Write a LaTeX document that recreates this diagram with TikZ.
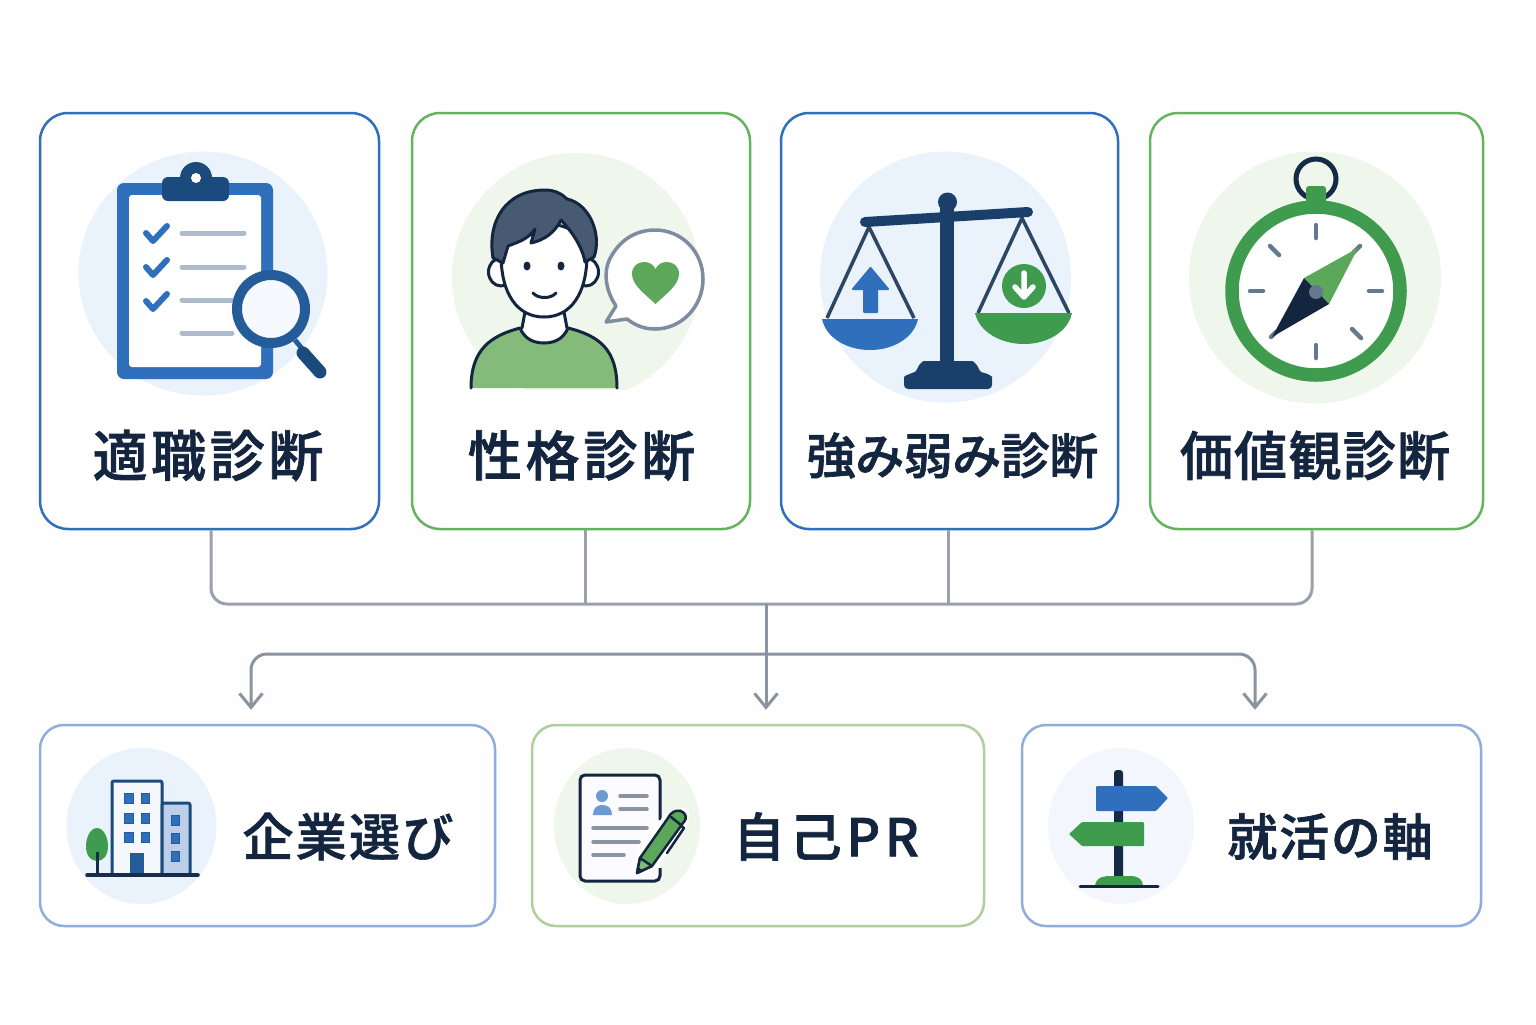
\documentclass[tikz,border=0pt]{standalone}
\usepackage{fontspec}
\setmainfont{Noto Sans CJK JP}[BoldFont={Noto Sans CJK JP Medium},BoldFeatures={FakeBold=1.3}]
\usetikzlibrary{arrows.meta}
\definecolor{navy}{HTML}{14263F}
\definecolor{bluem}{HTML}{2F6FBC}
\definecolor{blued}{HTML}{1B4A7C}
\definecolor{baseb}{HTML}{1A3F6B}
\definecolor{blueg}{HTML}{245C9A}
\definecolor{greenm}{HTML}{3F9B4D}
\definecolor{greenl}{HTML}{5BA85A}
\definecolor{greenb}{HTML}{66B35F}
\definecolor{bluebl}{HTML}{8FAEDB}
\definecolor{greenbl}{HTML}{AFCF9F}
\definecolor{cblue}{HTML}{EAF2FB}
\definecolor{cgreen}{HTML}{EFF6EC}
\definecolor{graya}{HTML}{9AA1AD}
\definecolor{grayb}{HTML}{8A93A0}
\definecolor{slate}{HTML}{66788F}
\definecolor{lineg}{HTML}{AEBBCD}
\definecolor{hair}{HTML}{475A72}
\definecolor{shirt}{HTML}{84BB7A}
\definecolor{string}{HTML}{2D4763}
\definecolor{paper}{HTML}{FEFEFE}
\newcommand{\lab}[3]{{\fontsize{#1}{#1}\selectfont\bfseries\addfontfeature{LetterSpace=#2}#3}}
\tikzset{
  cardbox/.style={draw=#1,line width=1.25pt,rounded corners=14pt,fill=white,inner sep=0pt},
  lowbox/.style={draw=#1,line width=1.25pt,rounded corners=12pt,fill=white,inner sep=0pt},
  conna/.style={draw=graya,line width=1.5pt},
  connb/.style={draw=grayb,line width=1.5pt,-{Straight Barb[length=7pt,width=11.5pt,line width=1.5pt]},shorten >=7pt},
  title/.style={text=navy,inner sep=0pt},
  ink/.style={line width=1.5pt,draw=navy,line cap=round,line join=round},
  check/.style={draw=bluem,line width=3pt,line cap=round,line join=round},
  rowline/.style={draw=lineg,line width=2.5pt,line cap=round},
  tick/.style={draw=slate,line width=2.25pt,line cap=round},
  docline/.style={draw=#1,line width=1.75pt,line cap=round},
  window/.style={fill=bluem,draw=blueg,line width=.3pt},
}
\begin{document}
\begin{tikzpicture}[x=.5pt,y=-.5pt]
\useasboundingbox (0,0) rectangle (1536,1024);
\fill[paper] (0,0) rectangle (1536,1024);
% cards
\node[cardbox=bluem,minimum width=169.5pt,minimum height=208pt] (c1) at (209.5,321) {};
\node[cardbox=greenb,minimum width=169pt,minimum height=208pt] (c2) at (581,321) {};
\node[cardbox=bluem,minimum width=168.5pt,minimum height=208pt] (c3) at (949.5,321) {};
\node[cardbox=greenb,minimum width=166.5pt,minimum height=208pt] (c4) at (1316.5,321) {};
\node[lowbox=bluebl,minimum width=227.5pt,minimum height=100.5pt] (r1) at (267.5,825.5) {};
\node[lowbox=greenbl,minimum width=226pt,minimum height=100.5pt] (r2) at (758,825.5) {};
\node[lowbox=bluebl,minimum width=229.5pt,minimum height=100.5pt] (r3) at (1251.5,825.5) {};
% connectors
\coordinate (b1) at (211,604);
\coordinate (b2) at (585,604);
\coordinate (b3) at (948,604);
\coordinate (b4) at (1312,604);
\coordinate (j1) at (766,604);
\coordinate (a1) at (251,654);
\coordinate (a2) at (766,654);
\coordinate (a3) at (1255,654);
\draw[conna,rounded corners=8pt] (b1 |- c1.south) -- (b1) -- (b4) -- (b4 |- c4.south);
\draw[conna] (b2 |- c2.south) -- (b2);
\draw[conna] (b3 |- c3.south) -- (b3);
\draw[connb] (j1) -- (a2 |- r2.north);
\draw[connb,rounded corners=8pt] (a2) -- (a1) -- (a1 |- r1.north);
\draw[connb,rounded corners=8pt] (a2) -- (a3) -- (a3 |- r3.north);
% titles
\node[title] (t1) at (208,455.5) {\lab{27.5pt}{6.5}{適職診断}};
\node[title] (t2) at (581.5,455.5) {\lab{27pt}{7}{性格診断}};
\node[title] (t3) at (952.5,455.5) {\lab{24.5pt}{-1}{強み弱み診断}};
\node[title] (t4) at (1315,455.5) {\lab{26.5pt}{2.5}{価値観診断}};
\node[title] (t5) at (348,836.5) {\lab{25.5pt}{4.5}{企業選び}};
\node[title] (t6) at (826,836.5) {\lab{26pt}{9}{自己PR}};
\node[title] (t7) at (1330,836.5) {\lab{25pt}{3.5}{就活の軸}};
% --- icon 1: clipboard
\fill[cblue] (203,273.5) ellipse [x radius=124.5,y radius=122];
\fill[bluem,rounded corners=3.5pt] (117,183) rectangle (273,379);
\fill[white,rounded corners=1.5pt] (129,195) rectangle (261,367);
\fill[blued] (196,178) circle [radius=16];
\fill[blued,rounded corners=3pt] (162,177) rectangle (229,201);
\fill[white] (196,178) circle [radius=5];
\draw[check] (146,233) -- (153,241) -- (167,226);
\draw[check] (146,267) -- (153,275) -- (167,260);
\draw[check] (146,301) -- (153,309) -- (167,294);
\draw[rowline] (182,233) -- (244,233);
\draw[rowline] (182,267) -- (244,267);
\draw[rowline] (182,300) -- (232,300);
\draw[rowline] (182,333) -- (232,333);
\draw[draw=blueg,line width=2.5pt] (295,340) -- (304,351);
\draw[draw=blued,line width=6.5pt,line cap=round] (303,353) -- (320,372);
\draw[draw=blueg,fill=cblue!45!white,line width=5pt] (271,309) circle [radius=34];
% --- icon 2: person
\begin{scope}
\clip (440,140) rectangle (720,389);
\fill[cgreen] (576,277) circle [radius=124];
\end{scope}
\fill[shirt] (471,388) .. controls (471,350) and (490,336) .. (520,328) .. controls (525,340) and (535,343) .. (544,343) .. controls (553,343) and (563,340) .. (568,328) .. controls (600,336) and (617,350) .. (617,388) -- cycle;
\fill[white] (523,305) rectangle (566,330) (520,328) .. controls (525,340) and (535,343) .. (544,343) .. controls (553,343) and (563,340) .. (568,328) -- cycle;
\draw[ink] (471,388) .. controls (471,350) and (490,336) .. (520,328) .. controls (525,340) and (535,343) .. (544,343) .. controls (553,343) and (563,340) .. (568,328) .. controls (600,336) and (617,350) .. (617,388);
\draw[ink] (525,312) -- (522,328);
\draw[ink] (564,312) -- (567,328);
\draw[ink,fill=white] (501,272) ellipse [x radius=12.5,y radius=14];
\draw[ink,fill=white] (586,272) ellipse [x radius=12.5,y radius=14];
\draw[ink,fill=white] (501,250) .. controls (500,295) and (518,317) .. (544,317) .. controls (570,317) and (588,295) .. (587,250) .. controls (580,215) and (510,215) .. (501,250) -- cycle;
\draw[ink,fill=hair] (493,258) .. controls (487,222) and (505,190) .. (545,190) .. controls (555,190) and (562,194) .. (567,199) .. controls (590,204) and (602,235) .. (594,257) -- (585,262) .. controls (583,250) and (575,235) .. (561,220) .. controls (555,232) and (545,240) .. (531,243) -- (535,229) .. controls (528,240) and (515,243) .. (508,246) -- (503,263) -- cycle;
\fill[navy] (527,266) ellipse [x radius=3.5,y radius=4.5];
\fill[navy] (561,266) ellipse [x radius=3.5,y radius=4.5];
\draw[ink] (533,293) .. controls (538,299) and (551,299) .. (556,293);
\draw[draw=slate!85!white,fill=white,line width=1.75pt,line join=round] (616,306) .. controls (602,285) and (605,265) .. (612,255) .. controls (622,238) and (638,230) .. (655,230) .. controls (682,230) and (703,252) .. (703,279) .. controls (703,306) and (682,329) .. (655,329) .. controls (645,329) and (636,326) .. (627,319) -- (606,322) -- cycle;
\fill[greenl] (655.5,304) .. controls (645,294) and (632,285) .. (632,274) .. controls (632,266) and (638,262) .. (644,262) .. controls (649,262) and (653,264) .. (655.5,269) .. controls (658,264) and (662,262) .. (667,262) .. controls (673,262) and (679,266) .. (679,274) .. controls (679,285) and (666,294) .. (655.5,304) -- cycle;
% --- icon 3: scales
\fill[cblue] (945.5,277) circle [radius=125.5];
\draw[draw=string,line width=1.75pt] (827,318) -- (869,227) -- (914,318);
\draw[draw=string,line width=1.75pt] (978,313) -- (1022,218) -- (1069,313);
\fill[bluem] (822,319) -- (918,319) .. controls (914,338) and (893,350) .. (870,350) .. controls (847,350) and (826,338) .. (822,319) -- cycle;
\fill[greenm] (975,313) -- (1072,313) .. controls (1068,332) and (1047,344) .. (1024,344) .. controls (1001,344) and (979,332) .. (975,313) -- cycle;
\fill[bluem,draw=bluem,line width=1pt,line join=round] (870.5,268) -- (888,289) -- (877,289) -- (877,312) -- (864,312) -- (864,289) -- (853,289) -- cycle;
\fill[greenm] (1024,286) circle [radius=22];
\draw[draw=white,line width=2.75pt,line cap=round,line join=round] (1024,273) -- (1024,296) (1015,287) -- (1024,297) -- (1033,287);
\fill[baseb] (940,205) rectangle (954,365);
\fill[baseb] (947.5,202) circle [radius=9.5];
\draw[draw=baseb,line width=5pt,line cap=round] (865,222) -- (1028,212);
\fill[baseb,rounded corners=2pt] (904,389) -- (904,381) .. controls (904,376) and (912,373) .. (916,373) .. controls (918,366) and (922,361) .. (928,361) -- (968,361) .. controls (974,361) and (978,366) .. (980,373) .. controls (986,373) and (992,376) .. (992,381) -- (992,389) -- cycle;
% --- icon 4: compass
\fill[cgreen] (1315,277.5) circle [radius=126];
\draw[draw=navy!90!blued,line width=2.5pt] (1316,179) circle [radius=20];
\fill[greenm,rounded corners=1.5pt] (1306,186) rectangle (1326,204);
\draw[draw=greenm,fill=white,line width=6.75pt] (1316,291) circle [radius=84];
\draw[tick] (1316,225) -- (1316,238);
\draw[tick] (1316,345) -- (1316,358);
\draw[tick] (1250,291) -- (1263,291);
\draw[tick] (1369,291) -- (1382,291);
\draw[tick] (1270,246) -- (1279,255);
\draw[tick] (1352,329) -- (1361,338);
\draw[tick] (1360,246) -- (1353,253);
\draw[tick] (1271,337) -- (1276,332);
\fill[greenl] (1358,248) -- (1304,278) -- (1329,304) -- cycle;
\fill[navy] (1272,337) -- (1304,278) -- (1329,304) -- cycle;
\fill[slate] (1316,292) circle [radius=7];
% --- icon 5: buildings
\fill[cblue] (141.5,826) ellipse [x radius=75,y radius=78];
\draw[draw=blued,fill=cblue!50!white,line width=1.5pt,rounded corners=1pt] (112,875) -- (112,781) -- (162,781) -- (162,875);
\draw[draw=blued,fill=bluebl!60!white,line width=1.5pt,rounded corners=1pt] (162,875) -- (162,803) -- (190,803) -- (190,875);
\foreach \yy in {793,813,832} {
  \fill[window] (124,\yy) rectangle (133,\yy+10);
  \fill[window] (141,\yy) rectangle (149,\yy+10);
}
\foreach \yy in {815,833,851} {
  \fill[window] (171,\yy) rectangle (179,\yy+10);
}
\fill[blueg] (130,853) rectangle (144,875);
\fill[greenm] (97,828) .. controls (104,828) and (108,838) .. (108,846) .. controls (108,856) and (103,861) .. (97,861) .. controls (91,861) and (86,856) .. (86,846) .. controls (86,838) and (90,828) .. (97,828) -- cycle;
\draw[draw=navy!80!blued,line width=1.5pt] (97,852) -- (97,875);
\draw[draw=navy!80!blued,line width=1.75pt,line cap=round] (87,875) -- (198,875);
% --- icon 6: resume and pen
\fill[cgreen] (627,826) ellipse [x radius=73,y radius=78];
\fill[blue!2!white,rounded corners=2pt] (580,775) rectangle (660,881);
\draw[ink,rounded corners=2.5pt,line cap=butt] (660,820) -- (660,775) -- (580,775) -- (580,881) -- (660,881) -- (660,868);
\fill[bluem!70!white] (602,796) circle [radius=6];
\fill[bluem!70!white] (593,815) .. controls (593,808) and (597,805) .. (602,805) .. controls (608,805) and (612,808) .. (612,815) -- cycle;
\draw[docline=grayb] (620,796) -- (647,796);
\draw[docline=grayb] (620,809) -- (647,809);
\draw[docline=grayb] (593,828) -- (647,828);
\draw[docline=grayb] (593,842) -- (639,842);
\draw[docline=grayb] (593,855) -- (624,855);
\draw[draw=white,line width=5pt,line join=round] (637,873) -- (640,858) -- (668,818) -- (684,813) -- (683,823) -- (652,866) -- cycle;
\draw[ink,line width=1.25pt] (680,825) -- (684,828) -- (667,853);
\draw[ink,fill=greenl,line width=1.25pt] (637,873) -- (640,858) -- (668,818) .. controls (671,811) and (680,808) .. (684,813) .. controls (687,817) and (686,820) .. (683,823) -- (652,866) -- cycle;
\draw[ink,fill=shirt,line width=1.25pt] (637,873) -- (640,858) -- (652,866) -- cycle;
\fill[navy] (637,873) -- (638,867) -- (643,870.5) -- cycle;
\draw[ink,line width=1.25pt] (671,817) -- (681,825);
% --- icon 7: signpost
\fill[cblue!60!white] (1121,826) ellipse [x radius=73,y radius=78];
\fill[navy!90!blued,rounded corners=1.5pt] (1114,770) rectangle (1123,880);
\fill[bluem,rounded corners=.5pt] (1096,786) -- (1156,786) -- (1168,798) -- (1156,811) -- (1096,811) -- cycle;
\fill[greenm,rounded corners=.5pt] (1144,822) -- (1082,822) -- (1069,834) -- (1082,846) -- (1144,846) -- cycle;
\fill[greenm] (1095,886) .. controls (1095,880) and (1100,876) .. (1110,876) -- (1130,876) .. controls (1139,876) and (1143,880) .. (1143,886) -- cycle;
\draw[draw=navy,line width=1.5pt,line cap=round] (1080,886) -- (1158,886);
\end{tikzpicture}
\end{document}
